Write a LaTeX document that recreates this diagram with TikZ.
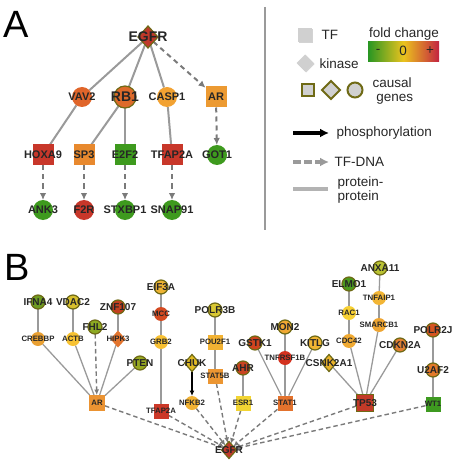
\documentclass[tikz,border=0pt]{standalone}
\usepackage{fontspec}
\setmainfont{Liberation Sans}
\usetikzlibrary{shapes.geometric,arrows.meta,backgrounds,shadows}
\definecolor{txt}{HTML}{262626}
\definecolor{olv}{HTML}{6F6A16}
\definecolor{ppg}{HTML}{9A9A9A}
\definecolor{dg}{HTML}{7A7A7A}
\definecolor{lg}{HTML}{D0D0D0}
\begin{document}
\begin{tikzpicture}[x=1pt,y=-1pt,
  nd/.style={inner sep=0pt,outer sep=0pt,draw=none},
  cA/.style={nd,circle,minimum size=20pt},
  sA/.style={nd,rectangle,minimum size=21pt},
  dA/.style={nd,diamond,minimum width=20pt,minimum height=22pt},
  cB/.style={nd,circle,minimum size=14pt},
  sB/.style={nd,rectangle,minimum size=15pt},
  dB/.style={nd,diamond,minimum width=15pt,minimum height=17pt},
  causal/.style={draw=olv,line width=1.2pt},
  lA/.style={font=\bfseries\fontsize{11}{11}\selectfont,text=txt},
  lAc/.style={font=\bfseries\fontsize{14}{14}\selectfont,text=txt},
  lB/.style={font=\bfseries\fontsize{7.8}{8}\selectfont,text=txt},
  lBc/.style={font=\bfseries\fontsize{10}{10}\selectfont,text=txt},
  ppA/.style={draw=ppg,line width=2pt},
  tdA/.style={draw=dg,line width=2pt,dash pattern=on 5pt off 4pt,-{Latex[length=7pt,width=6.5pt]}},
  ppB/.style={draw=ppg,line width=1.3pt},
  tdB/.style={draw=dg,line width=1.4pt,dash pattern=on 4.5pt off 3pt,-{Latex[length=5.5pt,width=5pt]}},
  phB/.style={draw=black,line width=1.3pt,-{Latex[length=5.5pt,width=5pt]}},
  leg/.style={font=\fontsize{13.5}{15}\selectfont,text=txt},
  big/.style={font=\fontsize{38}{38}\selectfont,text=black,inner sep=0pt},
  lsh/.style={fill=lg,drop shadow={opacity=0.35,shadow xshift=1pt,shadow yshift=-1pt}}
]
\useasboundingbox (0,0) rectangle (455,462);
% ---------------- Panel A ----------------
\node[big,anchor=base west] (labA) at (3,38) {A};
\node[dA,causal,fill={rgb,255:red,192;green,57;blue,43},label={[lAc]center:EGFR}] (aegfr) at (148,37) {};
\node[cA,fill={rgb,255:red,224;green,101;blue,42},label={[lA]center:VAV2}] (avav) at (82,97) {};
\node[cA,causal,minimum size=22pt,fill={rgb,255:red,221;green,106;blue,42},label={[lAc]center:RB1}] (arb) at (125,97) {};
\node[cA,fill={rgb,255:red,242;green,162;blue,50},label={[lA]center:CASP1}] (acasp) at (167,97) {};
\node[sA,fill={rgb,255:red,236;green,154;blue,50},label={[lA]center:AR}] (aar) at (216,97) {};
\node[sA,fill={rgb,255:red,200;green,55;blue,42},label={[lA]center:HOXA9}] (ahox) at (43,155) {};
\node[sA,fill={rgb,255:red,232;green,137;blue,46},label={[lA]center:SP3}] (asp) at (84,155) {};
\node[sA,fill={rgb,255:red,62;green,154;blue,30},label={[lA]center:E2F2}] (ae2f) at (125,155) {};
\node[sA,fill={rgb,255:red,200;green,55;blue,42},label={[lA]center:TFAP2A}] (atfap) at (172,155) {};
\node[cA,fill={rgb,255:red,62;green,154;blue,30},label={[lA]center:GOT1}] (agot) at (217,155) {};
\node[cA,fill={rgb,255:red,62;green,154;blue,30},label={[lA]center:ANK3}] (aank) at (43,210) {};
\node[cA,fill={rgb,255:red,200;green,55;blue,42},label={[lA]center:F2R}] (af2r) at (84,210) {};
\node[cA,fill={rgb,255:red,62;green,154;blue,30},label={[lA]center:STXBP1}] (astx) at (125,210) {};
\node[cA,fill={rgb,255:red,62;green,154;blue,30},label={[lA]center:SNAP91}] (asnap) at (172,210) {};
\begin{scope}[on background layer]
\draw[ppA] (aegfr) -- (avav);
\draw[ppA] (aegfr) -- (arb);
\draw[ppA] (aegfr) -- (acasp);
\draw[tdA] (aegfr) -- (aar);
\draw[ppA] (avav) -- (ahox);
\draw[ppA] (arb) -- (asp);
\draw[ppA] (arb) -- (ae2f);
\draw[ppA] (acasp) -- (atfap);
\draw[tdA] (aar) -- (agot);
\draw[tdA] (ahox) -- (aank);
\draw[tdA] (asp) -- (af2r);
\draw[tdA] (ae2f) -- (astx);
\draw[tdA] (atfap) -- (asnap);
\end{scope}
% separator
\coordinate (sep1) at (265,7);
\coordinate (sep2) at (265,230);
\draw[draw=ppg,line width=1.5pt] (sep1) -- (sep2);
% ---------------- Legend ----------------
\node[nd,rectangle,minimum size=14pt,lsh] (lgtf) at (305,35) {};
\node[leg,anchor=west] (lgtft) at (318,35) {TF};
\node[nd,diamond,minimum size=17pt,lsh] (lgkin) at (305,63) {};
\node[leg,anchor=west] (lgkint) at (316,64) {kinase};
\node[leg,anchor=south] (lgfc) at (404,44) {fold change};
\node[nd,rectangle,minimum width=71pt,minimum height=20pt,left color={rgb,255:red,40;green,150;blue,35},right color={rgb,255:red,195;green,35;blue,65},middle color={rgb,255:red,235;green,195;blue,30}] (lgbar) at (403.5,52) {};
\node[leg] (lgm) at (378,51) {-};
\node[leg] (lgz) at (403,51) {0};
\node[leg] (lgp) at (430,51) {+};
\node[nd,rectangle,minimum size=12pt,fill=lg,draw=olv,line width=2pt] (lgcs) at (308,90) {};
\node[nd,diamond,minimum size=18pt,fill=lg,draw=olv,line width=2pt] (lgcd) at (331,90) {};
\node[nd,circle,minimum size=15pt,fill=lg,draw=olv,line width=2pt] (lgcc) at (355,90) {};
\node[leg,anchor=west,align=left] (lgct) at (369,91) {causal\\[-1pt]\ genes};
\coordinate (lgp1) at (293,133);
\coordinate (lgp2) at (329,133);
\draw[draw=black,line width=3.2pt,-{Latex[length=9pt,width=9pt]}] (lgp1) -- (lgp2);
\node[leg,anchor=west] (lgpt) at (333,133) {phosphorylation};
\coordinate (lgt1) at (293,162);
\coordinate (lgt2) at (329,162);
\draw[draw=ppg,line width=3.2pt,dash pattern=on 8pt off 3pt,-{Latex[length=9pt,width=9pt]}] (lgt1) -- (lgt2);
\node[leg,anchor=west] (lgtt) at (331,162) {TF-DNA};
\coordinate (lgq1) at (293,189);
\coordinate (lgq2) at (328,189);
\draw[draw=ppg!75,line width=4pt] (lgq1) -- (lgq2);
\node[leg,anchor=west,align=left] (lgqt) at (334,190) {protein-\\[-1pt]protein};
% ---------------- Panel B ----------------
\node[big,anchor=base west] (labB) at (4,280) {B};
\node[dB,causal,minimum width=15pt,minimum height=17pt,fill={rgb,255:red,192;green,57;blue,43},label={[lBc]center:EGFR}] (begfr) at (229,450) {};
% AR group
\node[sB,minimum size=16pt,fill={rgb,255:red,235;green,147;blue,50},label={[lB]center:AR}] (bar) at (97,403) {};
\node[cB,causal,fill={rgb,255:red,110;green,155;blue,33},label={[lBc]center:IFNA4}] (bifna) at (38,302) {};
\node[cB,causal,fill={rgb,255:red,215;green,191;blue,46},label={[lBc]center:VDAC2}] (bvdac) at (73,302) {};
\node[cB,causal,fill={rgb,255:red,141;green,170;blue,34},label={[lBc]center:FHL2}] (bfhl) at (95,327) {};
\node[cB,causal,fill={rgb,255:red,195;green,64;blue,31},label={[lBc]center:ZNF107}] (bznf) at (118,307) {};
\node[cB,fill={rgb,255:red,233;green,160;blue,51},label={[lB]center:CREBBP}] (bcreb) at (38,339) {};
\node[cB,fill={rgb,255:red,247;green,194;blue,51},label={[lB]center:ACTB}] (bactb) at (73,339) {};
\node[dB,fill={rgb,255:red,226;green,116;blue,46},label={[lB]center:HIPK3}] (bhipk) at (118,339) {};
\node[cB,causal,fill={rgb,255:red,151;green,168;blue,32},label={[lBc]center:PTEN}] (bpten) at (140,363) {};
% TFAP2A group
\node[cB,causal,fill={rgb,255:red,237;green,179;blue,51},label={[lBc]center:EIF3A}] (beif) at (161,287) {};
\node[cB,fill={rgb,255:red,212;green,74;blue,33},label={[lB]center:MCC}] (bmcc) at (161,314) {};
\node[cB,fill={rgb,255:red,247;green,192;blue,51},label={[lB]center:GRB2}] (bgrb) at (161,342) {};
\node[sB,fill={rgb,255:red,203;green,56;blue,40},label={[lB]center:TFAP2A}] (btfap) at (161,411) {};
% POU2F1 group
\node[cB,causal,fill={rgb,255:red,217;green,200;blue,51},label={[lBc]center:POLR3B}] (bpolr3) at (215,310) {};
\node[sB,fill={rgb,255:red,242;green,178;blue,51},label={[lB]center:POU2F1}] (bpou) at (215,342) {};
\node[sB,fill={rgb,255:red,236;green,150;blue,50},label={[lB]center:STAT5B}] (bstat5) at (215,376) {};
% CHUK
\node[dB,causal,fill={rgb,255:red,226;green,187;blue,35},label={[lBc]center:CHUK}] (bchuk) at (192,363) {};
\node[cB,fill={rgb,255:red,242;green,178;blue,51},label={[lB]center:NFKB2}] (bnfkb) at (192,403) {};
% AHR
\node[cB,causal,fill={rgb,255:red,201;green,68;blue,33},label={[lBc]center:AHR}] (bahr) at (243,368) {};
\node[sB,fill={rgb,255:red,242;green,212;blue,51},label={[lB]center:ESR1}] (besr) at (243,403) {};
% STAT1 group
\node[cB,causal,fill={rgb,255:red,208;green,68;blue,31},label={[lBc]center:GSTK1}] (bgstk) at (255,343) {};
\node[cB,causal,fill={rgb,255:red,240;green,168;blue,51},label={[lBc]center:MON2}] (bmon) at (285,327) {};
\node[cB,fill={rgb,255:red,211;green,50;blue,31},label={[lB]center:TNFRSF1B}] (btnfr) at (285,358) {};
\node[cB,causal,fill={rgb,255:red,240;green,181;blue,51},label={[lBc]center:KITLG}] (bkitlg) at (315,343) {};
\node[sB,fill={rgb,255:red,227;green,114;blue,45},label={[lB]center:STAT1}] (bstat1) at (285,403) {};
% TP53 group
\node[dB,causal,fill={rgb,255:red,232;green,178;blue,42},label={[lBc]center:CSNK2A1}] (bcsnk) at (329,363) {};
\node[cB,causal,fill={rgb,255:red,76;green,154;blue,30},label={[lBc]center:ELMO1}] (belmo) at (349,284) {};
\node[cB,fill={rgb,255:red,247;green,208;blue,51},label={[lB]center:RAC1}] (brac) at (349,313) {};
\node[cB,fill={rgb,255:red,240;green,170;blue,51},label={[lB]center:CDC42}] (bcdc) at (349,341) {};
\node[cB,causal,fill={rgb,255:red,185;green,194;blue,50},label={[lBc]center:ANXA11}] (banx) at (380,268) {};
\node[cB,fill={rgb,255:red,242;green,181;blue,53},label={[lB]center:TNFAIP1}] (btnfa) at (379,298) {};
\node[cB,fill={rgb,255:red,238;green,165;blue,50},label={[lB]center:SMARCB1}] (bsmar) at (379,325) {};
\node[cB,causal,fill={rgb,255:red,224;green,128;blue,50},label={[lBc]center:CDKN2A}] (bcdkn) at (400,345) {};
\node[sB,causal,minimum size=17pt,fill={rgb,255:red,195;green,58;blue,40},label={[lBc]center:TP53}] (btp53) at (365,403) {};
% WT1 group
\node[cB,causal,fill={rgb,255:red,213;green,85;blue,33},label={[lBc]center:POLR2J}] (bpolr2) at (433,330) {};
\node[cB,causal,fill={rgb,255:red,226;green,122;blue,43},label={[lBc]center:U2AF2}] (bu2af) at (433,370) {};
\node[sB,fill={rgb,255:red,62;green,154;blue,32},label={[lB]center:WT1}] (bwt) at (433,404) {};
\begin{scope}[on background layer]
\draw[ppB] (bifna) -- (bcreb);
\draw[ppB] (bvdac) -- (bactb);
\draw[ppB] (bznf) -- (bhipk);
\draw[ppB] (bcreb) -- (bar);
\draw[ppB] (bactb) -- (bar);
\draw[tdB] (bfhl) -- (bar);
\draw[ppB] (bhipk) -- (bar);
\draw[ppB] (bpten) -- (bar);
\draw[ppB] (beif) -- (bmcc);
\draw[ppB] (bmcc) -- (bgrb);
\draw[ppB] (bgrb) -- (btfap);
\draw[ppB] (bpolr3) -- (bpou);
\draw[ppB] (bpou) -- (bstat5);
\draw[phB] (bchuk) -- (bnfkb);
\draw[ppB] (bahr) -- (besr);
\draw[ppB] (bgstk) -- (bstat1);
\draw[ppB] (bmon) -- (btnfr);
\draw[ppB] (btnfr) -- (bstat1);
\draw[ppB] (bkitlg) -- (bstat1);
\draw[ppB] (belmo) -- (brac);
\draw[ppB] (brac) -- (bcdc);
\draw[ppB] (bcdc) -- (btp53);
\draw[ppB] (banx) -- (btnfa);
\draw[ppB] (btnfa) -- (bsmar);
\draw[ppB] (bsmar) -- (btp53);
\draw[ppB] (bcsnk) -- (btp53);
\draw[ppB] (bcdkn) -- (btp53);
\draw[ppB] (bpolr2) -- (bu2af);
\draw[ppB] (bu2af) -- (bwt);
\draw[tdB] (bar) -- (begfr);
\draw[tdB] (btfap) -- (begfr);
\draw[tdB] (bnfkb) -- (begfr);
\draw[tdB] (bstat5) -- (begfr);
\draw[tdB] (besr) -- (begfr);
\draw[tdB] (bstat1) -- (begfr);
\draw[tdB] (btp53) -- (begfr);
\draw[tdB] (bwt) -- (begfr);
\end{scope}
\end{tikzpicture}
\end{document}
